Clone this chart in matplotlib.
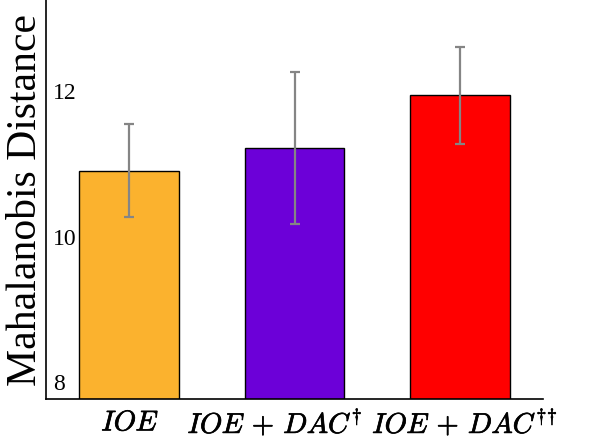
import matplotlib.pyplot as plt
import matplotlib.patheffects as pe
from matplotlib.transforms import ScaledTranslation

plt.rcParams['font.family'] = ['Liberation Serif', 'DejaVu Serif']
plt.rcParams['mathtext.fontset'] = 'cm'

labels = [r'$IOE$', r'$IOE\,+\,DAC^{\dagger}$', r'$IOE\,+\,DAC^{\dagger\!\dagger}$']
means = [10.90, 11.22, 11.95]
err_low = [0.63, 1.05, 0.68]
err_high = [0.65, 1.04, 0.65]
colors = ['#fbb22e', '#6c00d8', '#ff0000']
yticks = [8, 10, 12]

fig = plt.figure(figsize=(5.98, 4.46), dpi=100)
ax = fig.add_axes([46 / 598, 47 / 446, (543 - 46) / 598, 399 / 446])

x = list(range(len(means)))
ax.bar(x, means, width=0.6, color=colors, edgecolor='black', linewidth=1,
       yerr=[err_low, err_high], ecolor='#858585',
       error_kw=dict(elinewidth=1.6, capsize=3.4, capthick=1.6))

ax.set_xlim(-0.5, 2.5)
ax.set_ylim(7.77, 13.25)
ax.set_xticks([])
ax.set_yticks(yticks)
ax.set_yticklabels([str(t) for t in yticks], fontsize=17)
ax.tick_params(axis='y', length=0, pad=-5)
for lab in ax.get_yticklabels():
    lab.set_horizontalalignment('left')

# category labels, nudged sideways like the original (in points)
shift = [1, -14, 3.5]
for xi, lab, dx in zip(x, labels, shift):
    tr = ax.get_xaxis_transform() + ScaledTranslation(dx / 72, -18 / 72, fig.dpi_scale_trans)
    ax.text(xi, 0, lab, transform=tr, ha='center', va='center', fontsize=20.5,
            path_effects=[pe.withStroke(linewidth=0.5, foreground='black')])

ax.set_ylabel('Mahalanobis Distance', fontsize=30, labelpad=1)

for s in ['top', 'right']:
    ax.spines[s].set_visible(False)
for s in ['left', 'bottom']:
    ax.spines[s].set_linewidth(1.2)

fig.savefig('out.png', dpi=100)
